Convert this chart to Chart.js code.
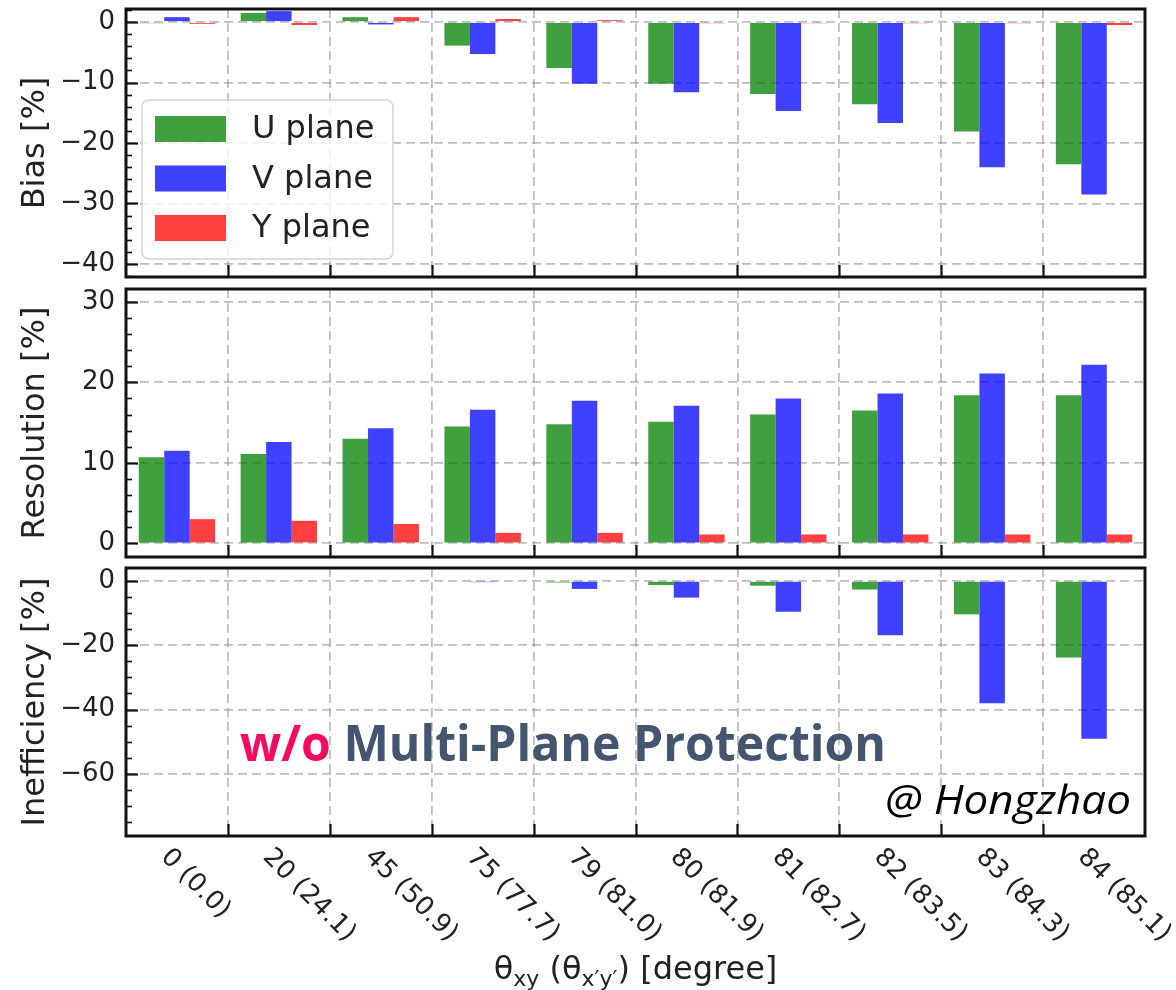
<!DOCTYPE html>
<html>
<head>
<meta charset="utf-8">
<script src="https://cdn.jsdelivr.net/npm/chart.js@4.4.1/dist/chart.umd.min.js"></script>
<style>
  html, body { margin: 0; padding: 0; background: #fff; }
  #figure { position: relative; width: 1176px; height: 990px; overflow: hidden; }
  #figure canvas { position: absolute; left: 0; }
</style>
</head>
<body>
<div id="figure">
  <canvas id="biasChart" width="1176" height="283" style="top:0"></canvas>
  <canvas id="resChart" width="1176" height="280" style="top:283px"></canvas>
  <canvas id="ineffChart" width="1176" height="427" style="top:563px"></canvas>
</div>
<script>
// theta_xy (theta_x'y') categories
const angleLabels = ['0 (0.0)', '20 (24.1)', '45 (50.9)', '75 (77.7)', '79 (81.0)',
                     '80 (81.9)', '81 (82.7)', '82 (83.5)', '83 (84.3)', '84 (85.1)'];
const planeNames = ['U plane', 'V plane', 'Y plane'];

// Bias [%]
const biasU = [-0.2, 1.5, 0.8, -3.9, -7.6, -10.2, -11.9, -13.6, -18.1, -23.5];
const biasV = [0.8, 1.8, -0.4, -5.3, -10.2, -11.6, -14.7, -16.7, -24.0, -28.5];
const biasY = [-0.3, -0.5, 0.8, 0.5, 0.3, -0.2, -0.2, -0.2, -0.2, -0.5];

// Resolution [%]
const resU = [10.7, 11.1, 13.0, 14.5, 14.8, 15.1, 16.0, 16.5, 18.4, 18.4];
const resV = [11.5, 12.6, 14.3, 16.6, 17.7, 17.1, 18.0, 18.6, 21.1, 22.2];
const resY = [3.0, 2.8, 2.4, 1.3, 1.3, 1.1, 1.1, 1.1, 1.1, 1.1];

// Inefficiency [%]
const ineffU = [0, 0, 0, 0, -0.5, -1.3, -1.5, -2.7, -10.4, -23.8];
const ineffV = [0, 0, 0, -0.4, -2.5, -5.2, -9.6, -16.9, -38.0, -49.1];
const ineffY = [0, 0, 0, 0, 0, 0, 0, 0, 0, 0];

// major tick values for each panel
const biasTicks = [0, -10, -20, -30, -40];
const resTicks = [0, 10, 20, 30];
const ineffTicks = [0, -20, -40, -60];

const planeColors = ['rgba(0,128,0,0.75)', 'rgba(0,0,255,0.75)', 'rgba(255,0,0,0.75)'];
const INK = '#222';
const MPL_FONT = '"DejaVu Sans", sans-serif';

// frame, inward ticks, legend and the extra labels the panels need
const axesDeco = {
    id: 'axesDeco',
    afterDraw(chart, args, opts) {
        const { ctx, chartArea: a, scales: { x, y } } = chart;
        ctx.save();
        ctx.strokeStyle = '#111';

        // left axis ticks pointing inwards
        const step = opts.minorStep;
        for (let k = Math.ceil(y.min / step); k * step <= y.max; k++) {
            const v = k * step;
            const major = v % opts.majorStep === 0;
            const py = Math.round(y.getPixelForValue(v)) + 0.5;
            ctx.lineWidth = major ? 2.2 : 1.6;
            ctx.beginPath();
            ctx.moveTo(a.left, py);
            ctx.lineTo(a.left + (major ? 12 : 6), py);
            ctx.stroke();
        }

        // bottom ticks between categories
        ctx.lineWidth = 2.2;
        for (let i = 0; i < chart.data.labels.length - 1; i++) {
            const px = Math.round((x.getPixelForValue(i) + x.getPixelForValue(i + 1)) / 2) + 0.5;
            ctx.beginPath();
            ctx.moveTo(px, a.bottom);
            ctx.lineTo(px, a.bottom - 12);
            ctx.stroke();
        }

        if (opts.legend) drawLegend(chart);
        if (opts.xLabels) drawBottomText(chart);

        ctx.strokeStyle = '#111';
        ctx.lineWidth = 3;
        ctx.strokeRect(a.left, a.top, a.width, a.height);
        ctx.restore();
    }
};

function drawLegend(chart) {
    const { ctx, chartArea: a } = chart;
    const bx = a.left + 16, by = 100;
    ctx.save();
    ctx.fillStyle = 'rgba(255,255,255,0.8)';
    ctx.strokeStyle = '#d4d4d4';
    ctx.lineWidth = 1.5;
    ctx.beginPath();
    ctx.roundRect(bx, by, 251, 159, 7);
    ctx.fill();
    ctx.stroke();

    ctx.font = '32px ' + MPL_FONT;
    ctx.textBaseline = 'middle';
    ctx.textAlign = 'left';
    chart.data.datasets.forEach((ds, i) => {
        const cy = by + 29 + i * 49.5;
        ctx.fillStyle = ds.backgroundColor;
        ctx.fillRect(bx + 13, cy - 13, 71, 26);
        ctx.fillStyle = INK;
        ctx.fillText(ds.label, bx + 110, cy + 1);
    });
    ctx.restore();
}

function drawBottomText(chart) {
    const { ctx, chartArea: a, scales: { x } } = chart;

    // rotated category labels, starting at each category centre
    ctx.save();
    ctx.font = '26px ' + MPL_FONT;
    ctx.fillStyle = INK;
    ctx.textAlign = 'left';
    ctx.textBaseline = 'top';
    chart.data.labels.forEach((lab, i) => {
        ctx.save();
        ctx.translate(x.getPixelForValue(i) - 3, a.bottom + 8);
        ctx.rotate(Math.PI / 4);
        ctx.fillText(lab, 0, 0);
        ctx.restore();
    });
    ctx.restore();

    // axis title with subscripts
    const runs = [
        { t: '\u03b8' }, { t: 'xy', sub: true }, { t: ' (\u03b8' },
        { t: 'x\u2032y\u2032', sub: true }, { t: ') [degree]' }
    ];
    const big = '32px ' + MPL_FONT, small = '22px ' + MPL_FONT;
    ctx.save();
    ctx.fillStyle = INK;
    ctx.textBaseline = 'alphabetic';
    let total = 0;
    runs.forEach(r => { ctx.font = r.sub ? small : big; r.w = ctx.measureText(r.t).width; total += r.w; });
    let tx = (a.left + a.right) / 2 - total / 2;
    const base = 416;
    runs.forEach(r => {
        ctx.font = r.sub ? small : big;
        ctx.fillText(r.t, tx, r.sub ? base + 7 : base);
        tx += r.w;
    });
    ctx.restore();

    // overlay notes inside the lower panel
    ctx.save();
    ctx.font = 'bold 50px "Open Sans", sans-serif';
    const p1 = 'w/o ', p2 = 'Multi-Plane Protection';
    const w1 = ctx.measureText(p1).width, w2 = ctx.measureText(p2).width;
    ctx.translate(240, 198);
    ctx.scale(646 / (w1 + w2), 1);
    ctx.fillStyle = '#f50a62';
    ctx.fillText(p1, 0, 0);
    ctx.fillStyle = '#44566f';
    ctx.fillText(p2, w1, 0);
    ctx.restore();

    ctx.save();
    ctx.font = 'italic 40px "Open Sans", sans-serif';
    const credit = '@ Hongzhao';
    const cw = ctx.measureText(credit).width;
    ctx.translate(885, 251);
    ctx.scale(246 / cw, 1);
    ctx.fillStyle = '#000';
    ctx.fillText(credit, 0, 0);
    ctx.restore();
}

function minusLabel(v) {
    return v < 0 ? '\u2212' + Math.abs(v) : String(v);
}

function makePanel(id, spec) {
    const gridStyle = {
        color: 'rgba(150,150,150,0.62)',
        lineWidth: 1.8,
        drawTicks: false
    };
    return new Chart(document.getElementById(id), {
        type: 'bar',
        data: {
            labels: angleLabels,
            datasets: spec.series.map((vals, i) => ({
                label: planeNames[i],
                data: vals,
                backgroundColor: planeColors[i],
                borderWidth: 0,
                categoryPercentage: 0.75,
                barPercentage: 1.0
            }))
        },
        options: {
            responsive: false,
            animation: false,
            devicePixelRatio: 1,
            events: [],
            layout: { padding: { left: 0, right: 31, top: spec.padTop, bottom: spec.padBottom } },
            plugins: {
                legend: { display: false },
                tooltip: { enabled: false },
                axesDeco: {
                    minorStep: spec.minorStep,
                    majorStep: spec.majorStep,
                    legend: !!spec.legend,
                    xLabels: !!spec.xLabels
                }
            },
            scales: {
                x: {
                    offset: true,
                    grid: Object.assign({ offset: true }, gridStyle),
                    border: { display: false, dash: [9, 5] },
                    ticks: { display: false },
                    afterFit(scale) {
                        scale.height = 0;
                        scale.paddingLeft = 0;
                        scale.paddingRight = 0;
                    }
                },
                y: {
                    min: spec.min,
                    max: spec.max,
                    grid: gridStyle,
                    border: { display: false, dash: [9, 5] },
                    afterBuildTicks(scale) { scale.ticks = spec.ticks.map(v => ({ value: v })); },
                    afterFit(scale) {
                        scale.width = 126;
                        scale.paddingTop = 0;
                        scale.paddingBottom = 0;
                    },
                    ticks: {
                        padding: 11,
                        color: INK,
                        font: { family: MPL_FONT, size: 26 },
                        callback: minusLabel
                    },
                    title: {
                        display: true,
                        text: spec.title,
                        color: INK,
                        font: { family: MPL_FONT, size: 32 },
                        padding: { top: 16, bottom: 0 }
                    }
                }
            }
        },
        plugins: [axesDeco]
    });
}

makePanel('biasChart', {
    series: [biasU, biasV, biasY], ticks: biasTicks, title: 'Bias [%]',
    min: -42.15, max: 2.15, minorStep: 2, majorStep: 10,
    padTop: 9, padBottom: 6, legend: true
});

makePanel('resChart', {
    series: [resU, resV, resY], ticks: resTicks, title: 'Resolution [%]',
    min: -1.7, max: 31.6, minorStep: 2, majorStep: 10,
    padTop: 6, padBottom: 6
});

makePanel('ineffChart', {
    series: [ineffU, ineffV, ineffY], ticks: ineffTicks, title: 'Inefficiency [%]',
    min: -79.3, max: 4.0, minorStep: 5, majorStep: 20,
    padTop: 5, padBottom: 154, xLabels: true
});
</script>
</body>
</html>
